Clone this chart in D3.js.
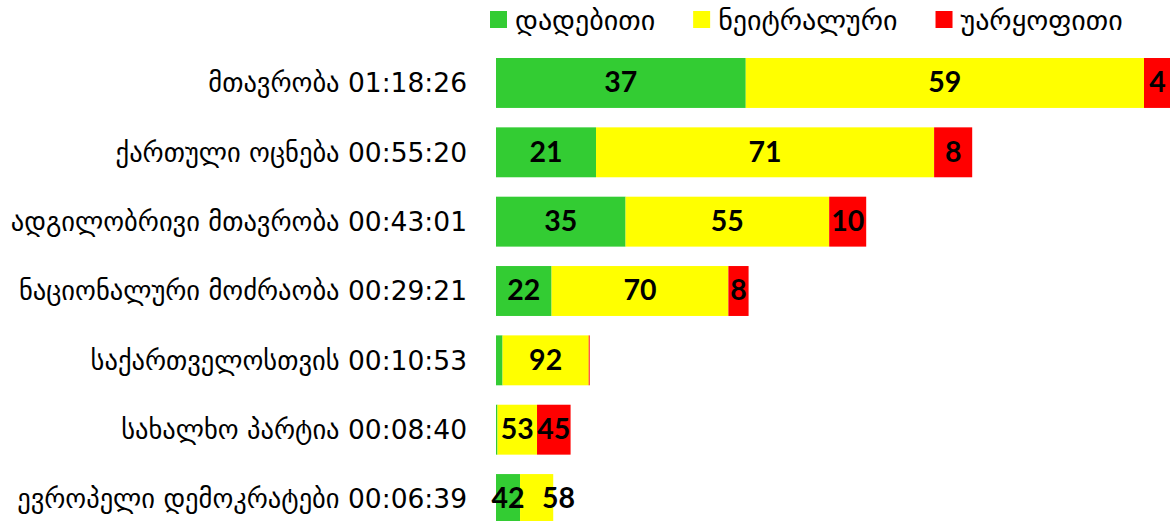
<!DOCTYPE html>
<html>
<head>
<meta charset="utf-8">
<script src="https://cdn.jsdelivr.net/npm/d3@7/dist/d3.min.js"></script>
<style>
  html, body { margin: 0; padding: 0; background: #ffffff; }
  svg { display: block; }
</style>
</head>
<body>
<svg id="chart" width="1170" height="521"></svg>
<script>
// ---- data ----
const parties = [
  "მთავრობა",
  "ქართული ოცნება",
  "ადგილობრივი მთავრობა",
  "ნაციონალური მოძრაობა",
  "საქართველოსთვის",
  "სახალხო პარტია",
  "ევროპელი დემოკრატები"
];
const durations = ["01:18:26", "00:55:20", "00:43:01", "00:29:21", "00:10:53", "00:08:40", "00:06:39"];
const seriesNames = ["დადებითი", "ნეიტრალური", "უარყოფითი"];
const positive = [37, 21, 35, 22, 7, 2, 42];
const neutral  = [59, 71, 55, 70, 92, 53, 58];
const negative = [4, 8, 10, 8, 1, 45, 0];

// ---- styles ----
const colors = ["#33CC33", "#FFFF00", "#FF0000"];
const labelFont = "'DejaVu Sans', sans-serif";
const valueFont = "Lato, 'Liberation Sans', sans-serif";

const svg = d3.select("#chart");

const toSec = s => { const p = s.split(":").map(Number); return p[0] * 3600 + p[1] * 60 + p[2]; };
const secs = durations.map(toSec);
const cats = parties.map((p, i) => p + " " + durations[i]);
const series = [positive, neutral, negative];

const x = d3.scaleLinear().domain([0, d3.max(secs)]).range([496, 1171]);
const y = d3.scaleBand().domain(cats).range([48.3, 533.7]).paddingInner(0.28).paddingOuter(0.14);

// build stacked segments
const segs = [];
cats.forEach((c, i) => {
  let cum = 0;
  series.forEach((s, k) => {
    const v = s[i];
    segs.push({ cat: c, k, v, x0: secs[i] * cum / 100, x1: secs[i] * (cum + v) / 100, i });
    cum += v;
  });
});

svg.append("g").selectAll("rect").data(segs).join("rect")
  .attr("x", d => x(d.x0))
  .attr("y", d => y(d.cat))
  .attr("width", d => Math.max(0, x(d.x1) - x(d.x0)))
  .attr("height", y.bandwidth())
  .attr("fill", d => colors[d.k]);

// value labels (manual nudge for last bar's neutral label as in original)
const nudge = { "6-1": 22 };
svg.append("g").selectAll("text").data(segs.filter(d => x(d.x1) - x(d.x0) >= 10)).join("text")
  .attr("x", d => (x(d.x0) + x(d.x1)) / 2 + (nudge[d.i + "-" + d.k] || 0))
  .attr("y", d => y(d.cat) + y.bandwidth() / 2 + 2)
  .attr("text-anchor", "middle")
  .attr("dominant-baseline", "middle")
  .attr("font-family", valueFont)
  .attr("font-weight", "bold")
  .attr("font-size", 28.5)
  .attr("fill", "#000")
  .text(d => d.v);

// category axis labels
const yAxis = d3.axisLeft(y).tickSize(0).tickPadding(0);
const gy = svg.append("g").attr("transform", "translate(467,0)").call(yAxis);
gy.select(".domain").remove();
gy.selectAll("text")
  .attr("font-family", labelFont)
  .attr("font-size", 26.5)
  .attr("fill", "#000")
  .attr("dy", "0.35em");

// legend
const lg = svg.append("g");
let lx = 490;
seriesNames.forEach((n, k) => {
  lg.append("rect").attr("x", lx).attr("y", 11).attr("width", 17).attr("height", 17).attr("fill", colors[k]);
  const t = lg.append("text").attr("x", lx + 25).attr("y", 20).attr("dy", "0.35em")
    .attr("font-family", labelFont).attr("font-size", 28).attr("fill", "#000").text(n);
  lx += 25 + t.node().getComputedTextLength() + 38;
});
</script>
</body>
</html>
